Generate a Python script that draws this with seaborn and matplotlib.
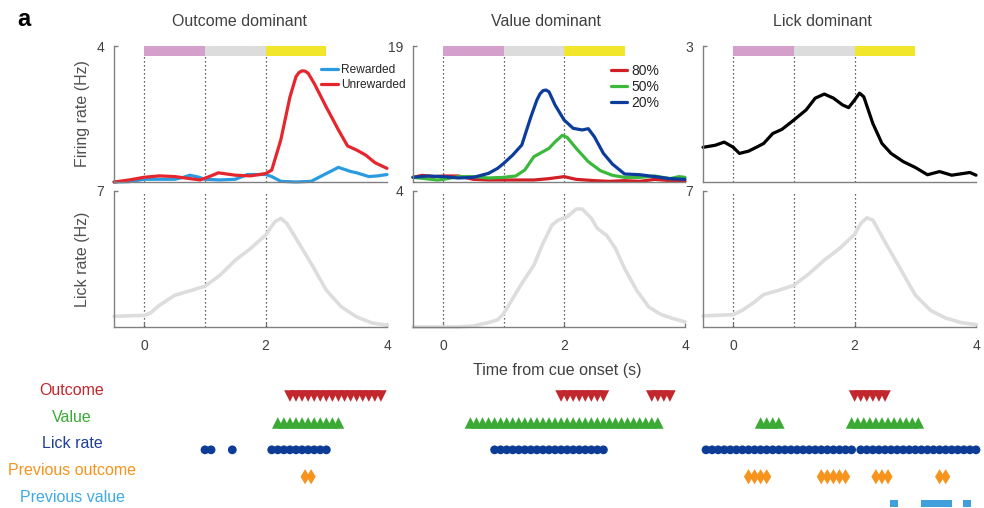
import numpy as np
import pandas as pd
import matplotlib
matplotlib.use("Agg")
import matplotlib.pyplot as plt
import matplotlib.transforms as mtransforms
import seaborn as sns

# ------------------------------------------------------------------ data
titles = ["Outcome dominant", "Value dominant", "Lick dominant"]
fr_ymax = [4, 19, 3]
lick_ymax = [7, 4, 7]
x_ticks = [0, 2, 4]
epoch_edges = [0, 1, 2, 3]
epoch_colors = ["#d4a0cb", "#dcdcdc", "#f2e62a"]
event_lines = [0, 1, 2]

# Outcome dominant neuron
rew_t = [-0.5, -0.25, 0, 0.25, 0.5, 0.65, 0.75, 0.9, 1.0, 1.25, 1.5, 1.7, 1.85, 2.0, 2.1,
         2.25, 2.5, 2.75, 3.0, 3.2, 3.4, 3.5, 3.7, 3.85, 4.0]
rew_fr = [0.0, 0.01, 0.08, 0.08, 0.08, 0.14, 0.2, 0.14, 0.08, 0.06, 0.08, 0.22, 0.22, 0.22, 0.16,
          0.02, 0.0, 0.02, 0.25, 0.43, 0.31, 0.27, 0.16, 0.18, 0.22]
unrew_t = [-0.5, -0.25, 0, 0.25, 0.5, 0.75, 0.92, 1.1, 1.22, 1.5, 1.75, 1.9, 2.0, 2.1, 2.25, 2.4,
           2.5, 2.55, 2.6, 2.65, 2.7, 2.8, 3.0, 3.2, 3.35, 3.5, 3.65, 3.8, 4.0]
unrew_fr = [0.0, 0.06, 0.14, 0.18, 0.16, 0.1, 0.06, 0.18, 0.27, 0.2, 0.18, 0.22, 0.25, 0.35, 1.24,
            2.5, 3.1, 3.22, 3.27, 3.26, 3.2, 2.9, 2.2, 1.53, 1.06, 0.94, 0.79, 0.57, 0.40]

# Value dominant neuron
p20_t = [-0.5, -0.25, 0, 0.25, 0.5, 0.75, 0.9, 1.0, 1.15, 1.3, 1.45, 1.55, 1.6, 1.65, 1.7, 1.75,
         1.85, 2.0, 2.15, 2.3, 2.4, 2.5, 2.65, 2.8, 3.0, 3.25, 3.5, 3.75, 4.0]
p20_fr = [0.65, 0.84, 0.75, 0.56, 0.65, 1.21, 1.91, 2.6, 3.77, 5.17, 9.1, 11.46, 12.3, 12.76, 12.85,
          12.6, 10.76, 8.66, 7.5, 7.27, 7.45, 6.33, 4.0, 2.5, 1.12, 1.02, 0.75, 0.47, 0.37]
p50_t = [-0.5, -0.3, -0.1, 0, 0.25, 0.5, 0.75, 1.0, 1.2, 1.35, 1.5, 1.6, 1.75, 1.85, 1.97, 2.05,
         2.2, 2.4, 2.6, 2.8, 3.0, 3.25, 3.5, 3.75, 3.9, 4.0]
p50_fr = [0.65, 0.47, 0.28, 0.37, 0.75, 0.75, 0.56, 0.65, 0.84, 1.68, 3.54, 4.0, 4.7, 5.6, 6.52, 6.24,
          4.7, 2.84, 1.58, 0.93, 0.65, 0.65, 0.84, 0.47, 0.75, 0.65]
p80_t = [-0.5, -0.35, -0.15, 0, 0.25, 0.5, 0.75, 1.0, 1.25, 1.5, 1.75, 2.0, 2.2, 2.5, 2.75, 3.0,
         3.25, 3.5, 3.75, 4.0]
p80_fr = [0.65, 0.93, 0.75, 0.84, 0.84, 0.37, 0.28, 0.28, 0.28, 0.28, 0.47, 0.75, 0.37, 0.19, 0.09,
          0.19, 0.09, 0.37, 0.19, 0.09]

# Lick dominant neuron
lickn_t = [-0.5, -0.3, -0.15, 0, 0.1, 0.25, 0.4, 0.5, 0.65, 0.8, 1.0, 1.2, 1.35, 1.5, 1.65, 1.8,
           1.9, 2.0, 2.08, 2.15, 2.3, 2.45, 2.6, 2.8, 3.0, 3.2, 3.4, 3.6, 3.75, 3.9, 4.0]
lickn_fr = [0.765, 0.81, 0.88, 0.765, 0.63, 0.68, 0.78, 0.85, 1.07, 1.16, 1.37, 1.59, 1.85, 1.94,
            1.85, 1.70, 1.64, 1.81, 1.96, 1.88, 1.29, 0.85, 0.63, 0.45, 0.32, 0.16, 0.23, 0.15,
            0.18, 0.21, 0.15]

# Lick rates
lick1_t = [-0.5, 0, 0.1, 0.25, 0.5, 0.75, 1.0, 1.25, 1.5, 1.75, 2.0, 2.15, 2.25, 2.35, 2.5, 2.75,
           3.0, 3.25, 3.5, 3.75, 4.0]
lick1_r = [0.55, 0.6, 0.72, 1.12, 1.63, 1.86, 2.1, 2.67, 3.44, 4.04, 4.73, 5.42, 5.59, 5.33, 4.56,
           3.27, 1.89, 1.03, 0.52, 0.21, 0.09]
lick2_t = [-0.5, 0, 0.25, 0.5, 0.75, 0.9, 1.0, 1.15, 1.3, 1.5, 1.65, 1.8, 1.9, 2.05, 2.2, 2.3,
           2.45, 2.55, 2.7, 2.85, 3.0, 3.2, 3.4, 3.6, 3.8, 4.0]
lick2_r = [0.0, 0.0, 0.0, 0.03, 0.13, 0.21, 0.39, 0.84, 1.28, 1.82, 2.46, 3.0, 3.14, 3.24, 3.47,
           3.47, 3.2, 2.9, 2.7, 2.31, 1.72, 1.08, 0.59, 0.37, 0.25, 0.15]
lick3_t = [-0.5, 0, 0.15, 0.35, 0.5, 0.75, 1.0, 1.25, 1.5, 1.75, 2.0, 2.1, 2.2, 2.3, 2.5, 2.75,
           3.0, 3.25, 3.5, 3.75, 4.0]
lick3_r = [0.57, 0.64, 0.86, 1.29, 1.67, 1.89, 2.15, 2.75, 3.44, 4.04, 4.77, 5.33, 5.62, 5.5, 4.38,
           3.01, 1.64, 0.86, 0.46, 0.23, 0.12]

# Significance rows (windows of significant 0.1-s bins, start/end in s)
row_names = ["Outcome", "Value", "Lick rate", "Previous outcome", "Previous value"]
row_colors = ["#c1272d", "#3aaa35", "#0d3c96", "#f7941d", "#3fa0dc"]
label_colors = ["#c1272d", "#3aaa35", "#1f3f99", "#f7941d", "#3fa9e6"]
row_markers = ["v", "^", "o", "d", "s"]
row_sizes = [70, 70, 40, 60, 28]
sig_outcome_dom = [[(2.4, 3.9)], [(2.2, 3.2)], [(1.0, 1.1), (1.45, 1.45), (2.1, 3.0)],
                   [(2.65, 2.75)], []]
sig_value_dom = [[(1.95, 2.65), (3.45, 3.75)], [(0.45, 3.55)], [(0.85, 2.65)], [], []]
sig_lick_dom = [[(2.0, 2.5)], [(0.45, 0.75), (1.95, 3.1)], [(-0.45, 1.95), (2.1, 4.0)],
                [(0.25, 0.55), (1.45, 1.85), (2.35, 2.55), (3.4, 3.5)],
                [(2.65, 2.65), (3.15, 3.55), (3.85, 3.85)]]
BIN = 0.1

# ------------------------------------------------------------------ style
sns.set_theme(style="white")
plt.rcParams["font.family"] = ["Liberation Sans", "DejaVu Sans"]
TXT = "#404040"
SPINE = "#808080"

W, H = 984, 508
fig = plt.figure(figsize=(W / 100, H / 100), dpi=100)


def px_axes(x0, y0, x1, y1):
    return fig.add_axes([x0 / W, 1 - y1 / H, (x1 - x0) / W, (y1 - y0) / H])


cols_x = [(114, 387), (413, 685), (703, 976)]
top_y = (46, 182)
bot_y = (191, 327)
bar_frac = 10 / 136

traces = [
    [(rew_t, rew_fr, "Rewarded", "#2b9be0"), (unrew_t, unrew_fr, "Unrewarded", "#e5262d")],
    [(p80_t, p80_fr, "80%", "#d11f26"), (p50_t, p50_fr, "50%", "#3cb83c"),
     (p20_t, p20_fr, "20%", "#0c3d9c")],
    [(lickn_t, lickn_fr, None, "black")],
]
licks = [(lick1_t, lick1_r), (lick2_t, lick2_r), (lick3_t, lick3_r)]
sigs = [sig_outcome_dom, sig_value_dom, sig_lick_dom]


def style_axes(ax, ymax):
    sns.despine(ax=ax)
    for s in ("left", "bottom"):
        ax.spines[s].set_color(SPINE)
        ax.spines[s].set_linewidth(1.0)
    ax.set_xlim(-0.5, 4)
    ax.set_ylim(0, ymax)
    ax.set_yticks([ymax])
    ax.set_yticklabels([str(ymax)])
    ax.tick_params(axis="y", direction="in", length=3, width=1, color=SPINE,
                   labelsize=10, labelcolor=TXT, pad=7, left=True)
    ax.set_xlabel("")
    ax.set_ylabel("")
    ax.grid(False)


for i, (x0, x1) in enumerate(cols_x):
    ax_t = px_axes(x0, top_y[0], x1, top_y[1])
    ax_b = px_axes(x0, bot_y[0], x1, bot_y[1])
    ax_m = px_axes(x0, 382.6, x1, 509)

    # firing rate
    for t, y, lab, col in traces[i]:
        df = pd.DataFrame({"t": t, "fr": y})
        sns.lineplot(data=df, x="t", y="fr", color=col, lw=2.3, ax=ax_t, label=lab,
                     legend=False, clip_on=False)
    style_axes(ax_t, fr_ymax[i])
    ax_t.set_xticks([])
    for k, c in enumerate(epoch_colors):
        ax_t.axvspan(epoch_edges[k], epoch_edges[k + 1], ymin=1 - bar_frac, ymax=1,
                     color=c, lw=0, zorder=3)
    for xv in event_lines:
        ax_t.axvline(xv, ymin=0, ymax=1 - bar_frac, color="#303030", lw=0.9,
                     ls=(0, (1, 2.2)), zorder=1)

    # lick rate
    lt, lr = licks[i]
    sns.lineplot(x=lt, y=lr, color="#dddddd", lw=2.6, ax=ax_b, clip_on=False)
    style_axes(ax_b, lick_ymax[i])
    ax_b.set_xticks(x_ticks)
    ax_b.set_xticklabels([str(v) for v in x_ticks])
    ax_b.tick_params(axis="x", direction="in", length=3, width=1, color=SPINE,
                     labelsize=10, labelcolor=TXT, pad=9, bottom=True)
    for xv in event_lines:
        ax_b.axvline(xv, ymin=0, ymax=1, color="#303030", lw=0.9,
                     ls=(0, (1, 2.2)), zorder=1)

    if i == 0:
        ax_t.set_ylabel("Firing rate (Hz)", fontsize=11.5, color="#505050")
        ax_t.yaxis.set_label_coords(-0.088, 0.5)
        ax_b.set_ylabel("Lick rate (Hz)", fontsize=11.5, color="#505050")
        ax_b.yaxis.set_label_coords(-0.088, 0.5)
        ax_t.legend(loc="upper left", bbox_to_anchor=(0.76, 0.865), frameon=False,
                    fontsize=8.6, handlelength=1.35, handletextpad=0.3, labelspacing=0.25,
                    borderpad=0, borderaxespad=0)
    if i == 1:
        ax_t.legend(loc="upper left", bbox_to_anchor=(0.728, 0.87), frameon=False,
                    fontsize=10, handlelength=1.15, handletextpad=0.3, labelspacing=0.15,
                    borderpad=0, borderaxespad=0)

    # significance markers
    ax_m.set_xlim(-0.5, 4)
    ax_m.set_ylim(4.2, -0.5)
    ax_m.axis("off")
    for r in range(len(row_names)):
        for (a, b) in sigs[i][r]:
            times = np.round(np.arange(a, b + 1e-6, BIN), 3)
            sns.scatterplot(x=times, y=np.full(len(times), r), marker=row_markers[r],
                            s=row_sizes[r], color=row_colors[r], edgecolor="none",
                            linewidth=0, ax=ax_m, legend=False, clip_on=False)
    ax_m.set_xlabel("")
    ax_m.set_ylabel("")

    if i == 0:
        tr = mtransforms.blended_transform_factory(fig.transFigure, ax_m.transData)
        for r, name in enumerate(row_names):
            ax_m.text(72 / W, r - 0.22, name, transform=tr, ha="center", va="center",
                      fontsize=11.5, color=label_colors[r])

# titles and labels
title_x = [240, 546, 822]
for tx, ttl in zip(title_x, titles):
    fig.text(tx / W, 1 - 21 / H, ttl, ha="center", va="center", fontsize=11.5, color=TXT)
fig.text(557 / W, 1 - 371 / H, "Time from cue onset (s)", ha="center", va="center",
         fontsize=11.5, color=TXT)
fig.text(24 / W, 1 - 19 / H, "a", ha="center", va="center", fontsize=17,
         fontweight="bold", color="black")

fig.savefig("out.png", dpi=100)
